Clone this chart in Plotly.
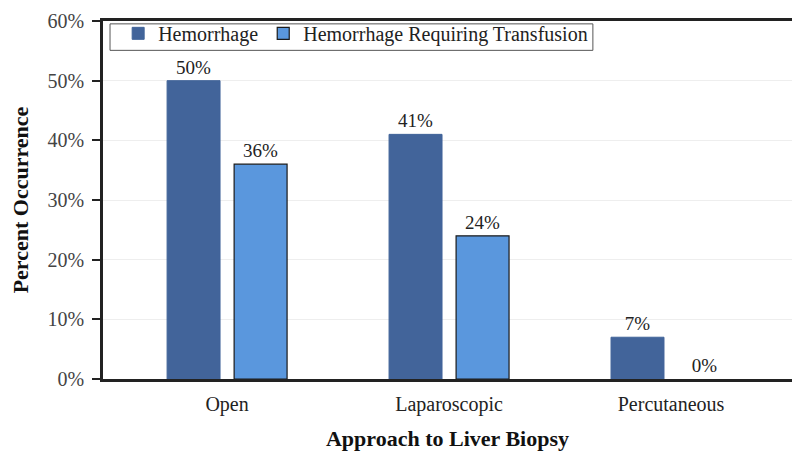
import plotly.graph_objects as go

categories = ["Open", "Laparoscopic", "Percutaneous"]
hemorrhage = [50, 41, 7]
transfusion = [36, 24, 0]
hem_labels = ["50%", "41%", "7%"]
trans_labels = ["36%", "24%", "0%"]
y_ticks = [0, 10, 20, 30, 40, 50, 60]
y_tick_labels = ["0%", "10%", "20%", "30%", "40%", "50%", "60%"]

FONT = "Liberation Serif"
x_idx = list(range(len(categories)))
trans_outline = [1.2 if v > 0 else 0 for v in transfusion]

fig = go.Figure()
fig.add_trace(go.Bar(
    x=x_idx, y=hemorrhage, name="Hemorrhage",
    marker=dict(color="#42649A", line=dict(color="#42649A", width=1)),
    text=hem_labels, textposition="outside",
    textfont=dict(family=FONT, size=19, color="#222"), cliponaxis=False,
))
fig.add_trace(go.Bar(
    x=x_idx, y=transfusion, name="Hemorrhage Requiring Transfusion",
    marker=dict(color="#5A97DD", line=dict(color="#1a1a1a", width=trans_outline)),
    text=trans_labels, textposition="outside",
    textfont=dict(family=FONT, size=19, color="#222"), cliponaxis=False,
))

# page body has an 8px default margin, so the figure is offset by 8px
fig.update_layout(
    width=792, height=449,
    margin=dict(l=95, r=8, t=6, b=78),
    paper_bgcolor="white", plot_bgcolor="white",
    barmode="group", bargap=0.396, bargroupgap=0.21,
    font=dict(family=FONT, size=19, color="#222"),
    showlegend=True,
    legend=dict(
        orientation="h", x=0.022, y=1.020, xanchor="left", yanchor="top",
        borderwidth=0, bgcolor="rgba(0,0,0,0)",
        font=dict(family=FONT, size=20, color="#222"),
        itemwidth=30, tracegroupgap=0,
    ),
    shapes=[dict(
        type="rect", xref="paper", yref="paper",
        x0=0.0102, x1=0.711, y0=0.918, y1=0.992,
        line=dict(color="#555", width=1), fillcolor="white", layer="below",
    )],
    xaxis=dict(
        tickmode="array", tickvals=x_idx, ticktext=categories,
        range=[-0.559, 2.545], automargin=False,
        showline=True, linecolor="#222", linewidth=2.5, mirror=True,
        ticks="", showgrid=False, zeroline=False, ticklabelstandoff=5,
        tickfont=dict(family=FONT, size=20, color="#222"),
        title=dict(text="<b>Approach to Liver Biopsy</b>", font=dict(family=FONT, size=22, color="#111"), standoff=16),
    ),
    yaxis=dict(
        range=[0, 60], tickmode="array", tickvals=y_ticks, ticktext=y_tick_labels,
        automargin=False, ticklabeloverflow="allow",
        showline=True, linecolor="#222", linewidth=2.5, mirror=True,
        ticks="outside", ticklen=8, tickwidth=2, tickcolor="#222",
        showgrid=True, gridcolor="#eeeeee", gridwidth=1, zeroline=False,
        ticklabelstandoff=4,
        tickfont=dict(family=FONT, size=20, color="#444"),
        title=dict(text="<b>Percent Occurrence</b>", font=dict(family=FONT, size=22, color="#111"), standoff=26),
    ),
)

fig.write_html("out.html")
